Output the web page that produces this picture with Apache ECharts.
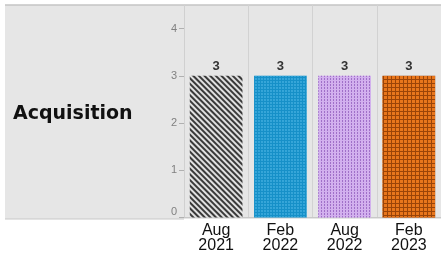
<!DOCTYPE html>
<html>
<head>
<meta charset="utf-8">
<script src="https://cdn.jsdelivr.net/npm/echarts@6/dist/echarts.min.js"></script>
<style>
  html, body { margin: 0; padding: 0; background: #fff; }
  #chart { width: 441px; height: 254px; }
</style>
</head>
<body>
<div id="chart"></div>
<script>
// rows of the facet
const facetLabel = 'Acquisition';
// survey waves along x
const categories = ['Aug\n2021', 'Feb\n2022', 'Aug\n2022', 'Feb\n2023'];
const values = [3, 3, 3, 3];
const yTicks = [0, 1, 2, 3, 4];

// one fill + texture per wave
const barStyles = [
  { color: '#e0e0e0', decal: { symbol: 'rect', color: '#3a3a3a', dashArrayX: [1, 0], dashArrayY: [1.3, 1.3], rotation: Math.PI / 4 } },
  { color: '#1690c8', decal: { symbol: 'circle', symbolSize: 0.9, color: 'rgba(90,190,235,0.7)', dashArrayX: [2, 1], dashArrayY: [2, 1] } },
  { color: '#d2b0ee', decal: { symbol: 'rect', color: '#a070c8', dashArrayX: [1, 2], dashArrayY: [2, 1] } },
  { color: '#9a4408', decal: { symbol: 'rect', color: '#e8761c', dashArrayX: [3, 1], dashArrayY: [3, 1] } }
];

const chart = echarts.init(document.getElementById('chart'), null, { renderer: 'canvas' });

chart.setOption({
  animation: false,
  backgroundColor: '#fff',
  graphic: [
    { type: 'rect', silent: true, z: -10, shape: { x: 5, y: 5, width: 436, height: 214 },
      style: { fill: '#e6e6e6' } },
    { type: 'line', silent: true, z: -9, shape: { x1: 5, y1: 5, x2: 441, y2: 5 },
      style: { stroke: '#c4c4c4', lineWidth: 1.5 } },
    { type: 'line', silent: true, z: -9, shape: { x1: 5, y1: 219, x2: 184, y2: 219 },
      style: { stroke: '#c8c8c8', lineWidth: 1 } }
  ],
  title: {
    text: facetLabel,
    left: 8,
    top: 100,
    textStyle: { fontFamily: 'DejaVu Sans', fontWeight: 'bold', fontSize: 19, color: '#111' }
  },
  grid: { left: 184, top: 5, width: 260, height: 214 },
  xAxis: {
    type: 'category',
    data: categories,
    axisLine: { show: true, lineStyle: { color: '#c8c8c8' } },
    axisTick: { show: false },
    splitLine: { show: true, lineStyle: { color: '#d2d2d2', width: 1 } },
    axisLabel: {
      color: '#111', fontFamily: 'Liberation Sans', fontSize: 16, lineHeight: 15, margin: 6
    }
  },
  yAxis: {
    type: 'value',
    min: 0,
    max: 4.5,
    interval: 1,
    splitLine: { show: false },
    axisLine: { show: true, lineStyle: { color: '#d0d0d0' } },
    axisTick: { show: true, length: 5, lineStyle: { color: '#b0b0b0' }, customValues: yTicks },
    axisLabel: {
      color: '#808080', fontFamily: 'Liberation Sans', fontSize: 11, margin: 7,
      customValues: yTicks,
      formatter: v => v === 0 ? '{z|0}' : String(v),
      rich: { z: { color: '#808080', fontFamily: 'Liberation Sans', fontSize: 11, padding: [0, 0, 12, 0] } }
    }
  },
  series: [{
    type: 'bar',
    barWidth: '82%',
    data: values.map((v, i) => ({ value: v, itemStyle: barStyles[i] })),
    label: {
      show: true, position: 'top', distance: 3,
      fontFamily: 'Liberation Sans', fontWeight: 'bold', fontSize: 13, color: '#333'
    }
  }]
});
</script>
</body>
</html>
